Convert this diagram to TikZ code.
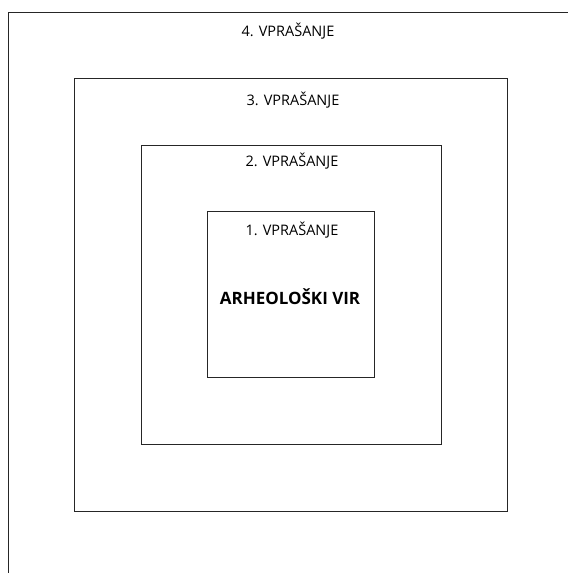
\documentclass[tikz,border=0pt]{standalone}
\usepackage{fontspec}
\setmainfont{Open Sans}
\begin{document}
\begin{tikzpicture}[x=1pt,y=1pt,
  frame/.style={draw=black!85,line width=1pt},
  qlabel/.style={font=\fontsize{14.5}{17}\selectfont,inner sep=0pt},
  core/.style={font=\fontsize{17}{20}\selectfont\bfseries,inner sep=0pt}]
\useasboundingbox (0,0) rectangle (568,573);
\draw[frame] (8,0) -- (8,560.5) -- (568,560.5);
\node[frame,minimum width=433,minimum height=433,inner sep=0pt] (b3) at (290.5,277.5) {};
\node[frame,minimum width=300,minimum height=299,inner sep=0pt] (b2) at (291,277.5) {};
\node[frame,minimum width=167,minimum height=166,inner sep=0pt] (b1) at (290.5,278) {};
\node[qlabel] (q4) at (288,542) {4. VPRAŠANJE};
\node[qlabel] (q3) at (293,473) {3. VPRAŠANJE};
\node[qlabel] (q2) at (292,412) {2. VPRAŠANJE};
\node[qlabel] (q1) at (292,343) {1. VPRAŠANJE};
\node[core] (src) at (290,276) {ARHEOLOŠKI VIR};
\end{tikzpicture}
\end{document}
